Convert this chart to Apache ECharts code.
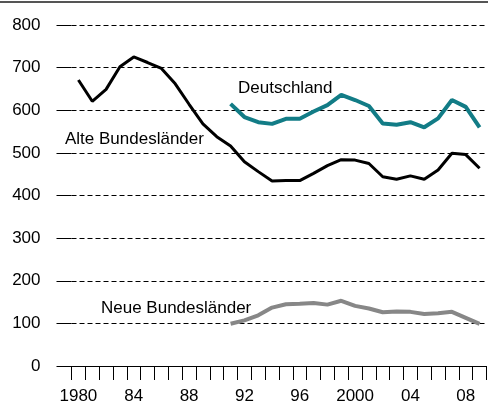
<!DOCTYPE html>
<html>
<head>
<meta charset="utf-8">
<script src="https://cdn.jsdelivr.net/npm/echarts@6/dist/echarts.min.js"></script>
<style>
  html, body { margin: 0; padding: 0; background: #fff; }
  #chart { width: 488px; height: 407px; }
</style>
</head>
<body>
<div id="chart"></div>
<script>
// Years on the category axis
const years = ['1980','1981','1982','1983','1984','1985','1986','1987','1988','1989',
  '1990','1991','1992','1993','1994','1995','1996','1997','1998','1999',
  '2000','2001','2002','2003','2004','2005','2006','2007','2008','2009'];

// Short labels shown under every 4th year
const yearLabels = { '1980': '1980', '1984': '84', '1988': '88', '1992': '92',
  '1996': '96', '2000': '2000', '2004': '04', '2008': '08' };

// Alte Bundesländer, 1980-2009
const alteValues = [671, 621, 649, 702, 725, 712, 698, 662, 614, 568,
  538, 516, 479, 456, 434, 435, 435, 452, 470, 484,
  483, 475, 444, 438, 446, 438, 460, 499, 496, 464];

// Deutschland, from 1991
const deutschValues = [null, null, null, null, null, null, null, null, null, null,
  null, 615, 584, 572, 568, 580, 580, 597, 612, 636,
  624, 610, 569, 566, 572, 560, 581, 624, 608, 560];

// Neue Bundesländer, from 1991
const neueValues = [null, null, null, null, null, null, null, null, null, null,
  null, 99, 107, 119, 137, 145, 146, 148, 144, 153,
  141, 135, 126, 128, 127, 122, 124, 127, 113, 99];

const yTicks = { min: 0, max: 800, interval: 100 };

const FONT = 'Liberation Sans, Arial, sans-serif';

const chart = echarts.init(document.getElementById('chart'));

const option = {
  animation: false,
  grid: { left: 71.5, right: 1.5, top: 25, bottom: 41 },
  xAxis: {
    type: 'category',
    data: years,
    boundaryGap: true,
    axisLine: { show: true, lineStyle: { color: '#000', width: 1 } },
    axisTick: { show: true, interval: 0, length: 14, lineStyle: { color: '#000', width: 1 } },
    axisLabel: {
      interval: 0,
      margin: 22,
      color: '#000',
      fontFamily: FONT,
      fontSize: 17,
      formatter: function (v) { return yearLabels[v] || ''; }
    },
    splitLine: { show: false }
  },
  yAxis: {
    type: 'value',
    min: yTicks.min,
    max: yTicks.max,
    interval: yTicks.interval,
    axisLine: { show: false },
    axisTick: { show: true, length: 15, lineStyle: { color: '#000', width: 1 } },
    axisLabel: { margin: 31, color: '#000', fontFamily: FONT, fontSize: 17 },
    splitLine: { show: true, lineStyle: { color: '#000', width: 1, type: [5, 3] } }
  },
  series: [
    {
      name: 'Alte Bundesländer',
      type: 'line',
      data: alteValues,
      symbol: 'none',
      lineStyle: { color: '#000', width: 3 },
      z: 3
    },
    {
      name: 'Deutschland',
      type: 'line',
      data: deutschValues,
      symbol: 'none',
      lineStyle: { color: '#127c86', width: 4 },
      z: 3
    },
    {
      name: 'Neue Bundesländer',
      type: 'line',
      data: neueValues,
      symbol: 'none',
      lineStyle: { color: '#878787', width: 4 },
      z: 3
    }
  ],
  graphic: [
    {
      type: 'line',
      shape: { x1: 0, y1: 2, x2: 488, y2: 2 },
      style: { stroke: '#555', lineWidth: 2 }
    },
    {
      type: 'text', left: 238, top: 80,
      style: { text: 'Deutschland', fill: '#000', font: '17px ' + FONT }
    },
    {
      type: 'text', left: 65, top: 131,
      style: { text: 'Alte Bundesländer', fill: '#000', font: '17px ' + FONT }
    },
    {
      type: 'text', left: 101, top: 300,
      style: { text: 'Neue Bundesländer', fill: '#000', font: '17px ' + FONT }
    }
  ]
};

chart.setOption(option);
</script>
</body>
</html>
